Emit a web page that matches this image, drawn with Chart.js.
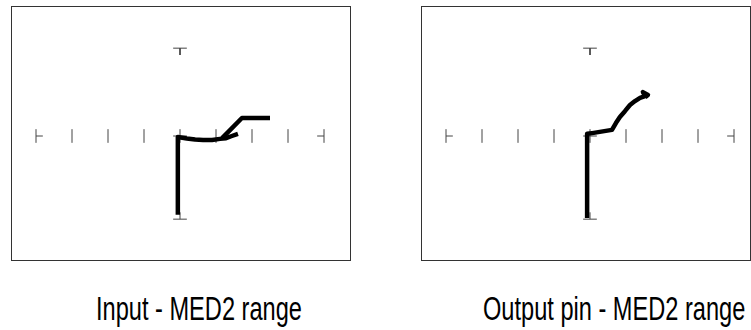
<!DOCTYPE html>
<html>
<head>
<meta charset="utf-8">
<script src="https://cdn.jsdelivr.net/npm/chart.js@4.4.1/dist/chart.umd.min.js"></script>
<style>
  html, body { margin: 0; padding: 0; background: #ffffff; }
  body { width: 751px; height: 330px; position: relative; overflow: hidden; }
  .panel { position: absolute; }
  .label { position: absolute; top: 292px; font-family: "Liberation Sans", Arial, sans-serif; font-size: 33px; color: #000; white-space: nowrap; line-height: 33px; transform-origin: left top; transform: scaleX(0.715); }
</style>
</head>
<body>
<div class="panel" id="p1" style="left:11px; top:6px; width:340px; height:255px;"><canvas id="c1"></canvas></div>
<div class="panel" id="p2" style="left:421px; top:6px; width:330px; height:255px;"><canvas id="c2"></canvas></div>
<div class="label" id="l1" style="left:96px;">Input - MED2 range</div>
<div class="label" id="l2" style="left:483px;">Output pin - MED2 range</div>
<script>
// ---- data (screen divisions, origin at graticule centre) ----
const panelTitles = ["Input - MED2 range", "Output pin - MED2 range"];
const tickPositions = [-4, -3, -2, -1, 0, 1, 2, 3, 4];
const topMarkerY = 2.44;
const bottomMarkerY = -2.31;

// Input pin trace: rising vertical branch then curved knee
const inputTraceX = [-0.06, -0.06, 0.19, 0.42, 0.64, 0.89, 1.11, 1.28, 1.44, 1.61];
const inputTraceY = [-2.19, -0.03, -0.07, -0.10, -0.11, -0.11, -0.08, -0.06, 0.0, 0.06];
// Input pin return branch (diagonal + flat top)
const inputReturnX = [1.17, 1.72, 2.5];
const inputReturnY = [-0.06, 0.5, 0.5];

// Output pin trace
const outputTraceX = [-0.08, -0.08, 0.06, 0.61, 0.72, 0.83, 0.97, 1.11, 1.25, 1.39, 1.53, 1.47, 1.61, 1.53];
const outputTraceY = [-2.28, 0.06, 0.08, 0.17, 0.36, 0.53, 0.69, 0.86, 0.97, 1.06, 1.11, 1.22, 1.14, 1.08];

// ---- helpers ----
const zip = (xs, ys) => xs.map((x, i) => ({ x: x, y: ys[i] }));
const TICK = 0.19;
const tickColor = '#444444';

function graticuleDatasets() {
  const segs = [];
  const first = tickPositions[0], last = tickPositions[tickPositions.length - 1];
  tickPositions.forEach(t => {
    segs.push([{ x: t, y: -TICK }, { x: t, y: TICK }]);
    if (t === first) segs.push([{ x: t, y: 0 }, { x: t + TICK, y: 0 }]);
    if (t === last) segs.push([{ x: t - TICK, y: 0 }, { x: t, y: 0 }]);
    if (t === 0) segs.push([{ x: -TICK, y: 0 }, { x: TICK, y: 0 }]);
  });
  // top marker  ┬
  segs.push([{ x: -TICK, y: topMarkerY }, { x: TICK, y: topMarkerY }]);
  segs.push([{ x: 0, y: topMarkerY }, { x: 0, y: topMarkerY - TICK }]);
  // bottom marker ┴
  segs.push([{ x: -TICK, y: bottomMarkerY }, { x: TICK, y: bottomMarkerY }]);
  segs.push([{ x: 0, y: bottomMarkerY }, { x: 0, y: bottomMarkerY + TICK }]);
  return segs.map(s => ({
    data: s, showLine: true, borderColor: tickColor, borderWidth: 1,
    pointRadius: 0, fill: false, tension: 0, order: 2
  }));
}

function traceDataset(pts) {
  return {
    data: pts, showLine: true, borderColor: '#000', borderWidth: 4.5,
    pointRadius: 0, fill: false, tension: 0,
    borderJoinStyle: 'round', borderCapStyle: 'butt', order: 1
  };
}

const framePlugin = {
  id: 'frame',
  afterDraw(chart) {
    const a = chart.chartArea, ctx = chart.ctx;
    ctx.save();
    ctx.strokeStyle = '#333';
    ctx.lineWidth = 1;
    ctx.strokeRect(a.left + 0.5, a.top + 0.5, a.right - a.left - 1, a.bottom - a.top - 1);
    ctx.restore();
  }
};

function makeChart(id, datasets, xmin, xmax, ymin, ymax) {
  return new Chart(document.getElementById(id), {
    type: 'scatter',
    data: { datasets: datasets },
    options: {
      responsive: true, maintainAspectRatio: false, animation: false,
      layout: { padding: 0 },
      plugins: { legend: { display: false }, tooltip: { enabled: false }, title: { display: false } },
      scales: {
        x: { type: 'linear', display: false, min: xmin, max: xmax },
        y: { type: 'linear', display: false, min: ymin, max: ymax }
      }
    },
    plugins: [framePlugin]
  });
}

const PX = 36; // pixels per division
makeChart('c1',
  graticuleDatasets().concat([
    traceDataset(zip(inputTraceX, inputTraceY)),
    traceDataset(zip(inputReturnX, inputReturnY))
  ]),
  -169 / PX, (340 - 169) / PX, (130 - 255) / PX, 130 / PX);

makeChart('c2',
  graticuleDatasets().concat([
    traceDataset(zip(outputTraceX, outputTraceY))
  ]),
  -169 / PX, (330 - 169) / PX, (130 - 255) / PX, 130 / PX);

document.getElementById('l1').textContent = panelTitles[0];
document.getElementById('l2').textContent = panelTitles[1];
</script>
</body>
</html>
